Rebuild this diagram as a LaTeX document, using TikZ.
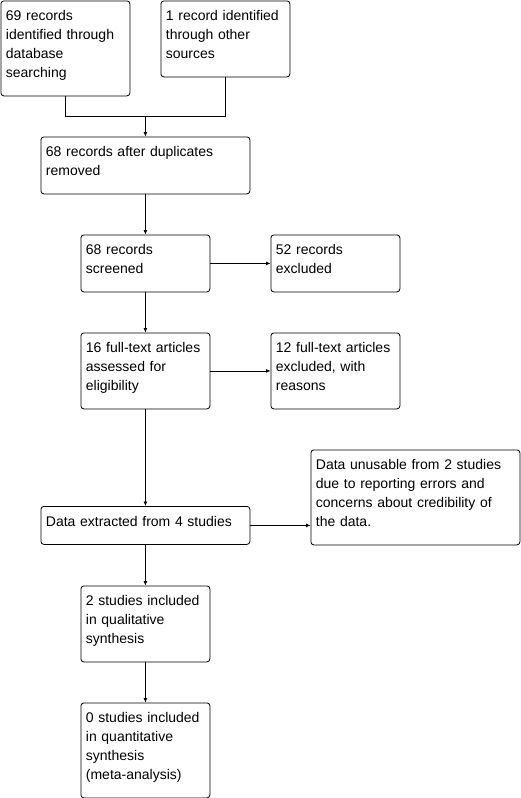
\documentclass[tikz,border=0pt]{standalone}
\usepackage{fontspec}
\setmainfont{Liberation Sans}
\usetikzlibrary{arrows.meta}
\usetikzlibrary{calc}

\begin{document}
\begin{tikzpicture}[x=1pt,y=-1pt,>={Latex[length=4.5pt,width=4pt]}]
\tikzset{
box/.style = {draw,
              rounded corners=3pt,
              anchor=north west,
              inner xsep=5pt,
              inner ysep=0pt,
              align=left,
              text height=20pt,
              line width=0.8pt,
              font=\fontsize{14}{19}\selectfont},
narrow/.style = {box, text width=119pt},
wide/.style = {box, text width=199pt},
oneline/.style = {text depth=18pt},
twolines/.style = {text depth=37pt},
threelines/.style = {text depth=56pt},
fourlines/.style = {text depth=75pt},
link/.style = {line width=0.8pt}
}
\useasboundingbox (0,0) rectangle (521,798);

\node[narrow,fourlines]  at (0.5,0.5)     (ident)    {69 records\\identified through\\database\\searching};
\node[narrow,threelines] at (160.5,0.5)   (other)    {1 record identified\\through other\\sources};
\node[wide,twolines]     at (40.5,136.5)  (dedup)    {68 records after duplicates\\removed};
\node[narrow,twolines]   at (80.5,234.5)  (screen)   {68 records\\screened};
\node[narrow,twolines]   at (270.5,234.5) (excl)     {52 records\\excluded};
\node[narrow,threelines] at (80.5,332.5)  (fulltext) {16 full-text articles\\assessed for\\eligibility};
\node[narrow,threelines] at (270.5,332.5) (ftexcl)   {12 full-text articles\\excluded, with\\reasons};
\node[wide,oneline]      at (40.5,506)    (extract)  {Data extracted from 4 studies};
\node[wide,fourlines]    at (310.5,449.5) (unusable) {Data unusable from 2 studies\\due to reporting errors and\\concerns about credibility of\\the data.};
\node[narrow,threelines] at (80.5,585.5)  (qual)     {2 studies included\\in qualitative\\synthesis};
\node[narrow,fourlines]  at (80.5,702.5)  (quant)    {0 studies included\\in quantitative\\synthesis\\(meta-analysis)};

\coordinate (merge) at ($(dedup.north)+(0,-20)$);

\draw[link] (ident.south) |- (merge) -| (other.south);
\draw[link,->] (merge) -- (dedup.north);

\draw[link,->] (dedup) edge (screen) (screen) edge (excl) (screen) edge (fulltext);
\draw[link,->] (fulltext) edge (ftexcl) (fulltext) edge (extract);
\draw[link,->] (extract.east) -- (extract.east -| unusable.west);
\draw[link,->] (extract) edge (qual) (qual) edge (quant);
\end{tikzpicture}
\end{document}
